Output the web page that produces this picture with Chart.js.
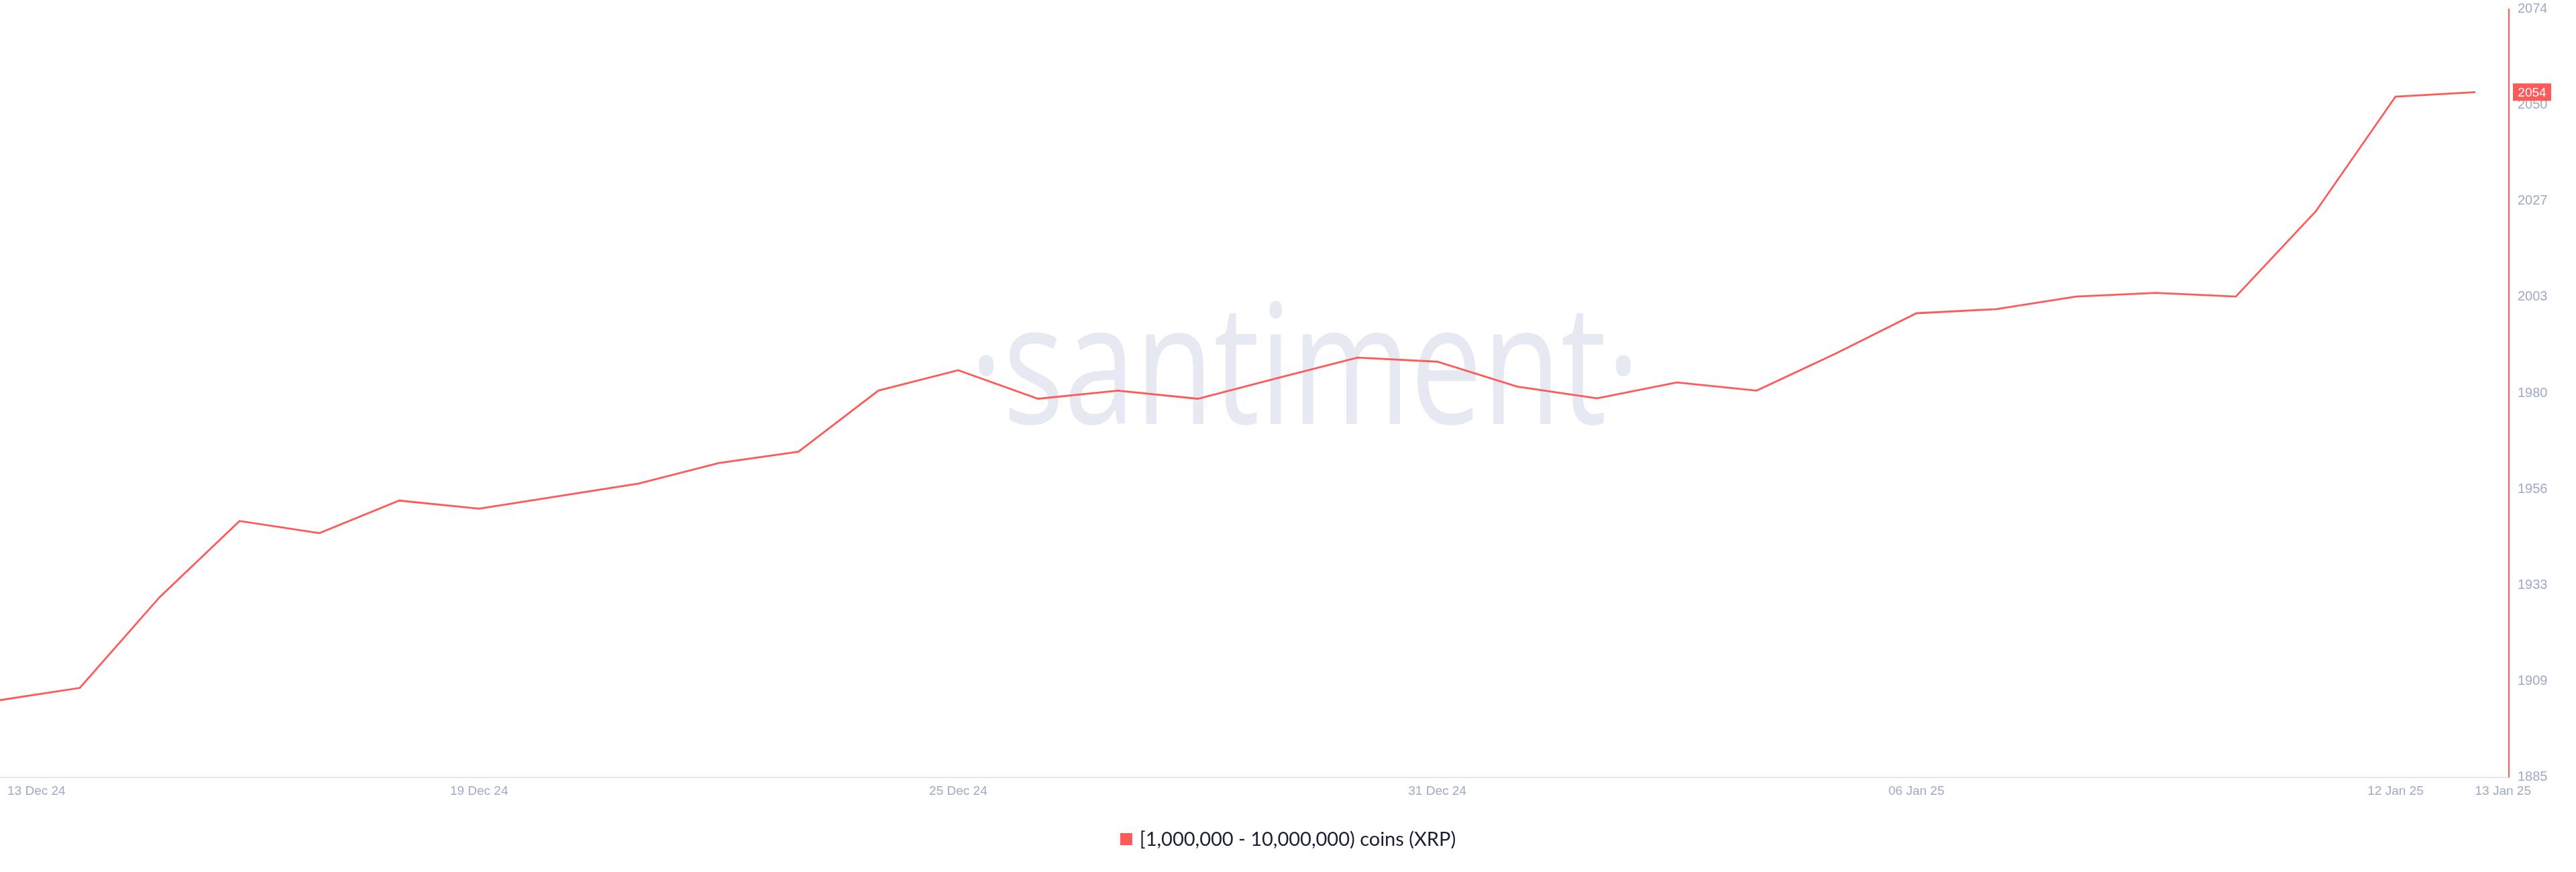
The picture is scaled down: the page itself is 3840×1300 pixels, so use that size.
<!DOCTYPE html>
<html>
<head>
<meta charset="utf-8">
<script src="https://cdn.jsdelivr.net/npm/chart.js@4.4.1/dist/chart.umd.min.js"></script>
<style>
  html, body { margin: 0; padding: 0; background: #ffffff; }
  canvas { display: block; }
</style>
</head>
<body>
<canvas id="c" width="3840" height="1300"></canvas>
<script>
// ---- data ----
const dates = [
  '13 Dec 24','14 Dec 24','15 Dec 24','16 Dec 24','17 Dec 24','18 Dec 24','19 Dec 24',
  '20 Dec 24','21 Dec 24','22 Dec 24','23 Dec 24','24 Dec 24','25 Dec 24','26 Dec 24',
  '27 Dec 24','28 Dec 24','29 Dec 24','30 Dec 24','31 Dec 24','01 Jan 25','02 Jan 25',
  '03 Jan 25','04 Jan 25','05 Jan 25','06 Jan 25','07 Jan 25','08 Jan 25','09 Jan 25',
  '10 Jan 25','11 Jan 25','12 Jan 25','13 Jan 25'
];
const holders = [
  1904.3, 1907.3, 1929.6, 1948.3, 1945.3, 1953.3, 1951.3, 1954.4, 1957.5, 1962.5,
  1965.3, 1980.3, 1985.3, 1978.3, 1980.3, 1978.3, 1983.4, 1988.4, 1987.4, 1981.3,
  1978.4, 1982.3, 1980.3, 1989.5, 1999.3, 2000.3, 2003.4, 2004.3, 2003.4, 2024.3,
  2052.5, 2053.6
];
const xTickIndices = [0, 6, 12, 18, 24, 30, 31];
const yMin = 1885.4;
const yMax = 2074.0;
const yTickCount = 9;
const seriesName = '[1,000,000 - 10,000,000) coins (XRP)';
const watermark = '·santiment·';

// ---- styles ----
const RED = 'rgb(255,90,90)';
const AXIS_TEXT = 'rgb(158,170,198)';
const TICK_FONT = '19px "Liberation Sans", Arial, sans-serif';

const watermarkPlugin = {
  id: 'watermark',
  beforeDatasetsDraw(chart) {
    const ctx = chart.ctx;
    ctx.save();
    ctx.font = '400 250px "Open Sans", sans-serif';
    ctx.fillStyle = 'rgb(230,233,242)';
    ctx.textBaseline = 'alphabetic';
    ctx.textAlign = 'left';
    const w = ctx.measureText(watermark).width;
    const targetW = 1000;
    const sx = targetW / w;
    ctx.translate(1945 - targetW / 2, 632);
    ctx.scale(sx, 1);
    ctx.fillText(watermark, 0, 0);
    ctx.restore();
  }
};

const extrasPlugin = {
  id: 'extras',
  afterDraw(chart) {
    const ctx = chart.ctx;
    const xs = chart.scales.x;
    const ys = chart.scales.y;
    ctx.save();
    // x tick labels
    ctx.font = TICK_FONT;
    ctx.fillStyle = AXIS_TEXT;
    ctx.textBaseline = 'middle';
    const yLab = 1180;
    xTickIndices.forEach((idx, k) => {
      const px = xs.getPixelForValue(idx);
      const txt = dates[idx];
      if (k === 0) {
        ctx.textAlign = 'left';
        ctx.fillText(txt, px + 11, yLab);
      } else if (k === xTickIndices.length - 1) {
        ctx.textAlign = 'right';
        ctx.fillText(txt, px + 83, yLab);
      } else {
        ctx.textAlign = 'center';
        ctx.fillText(txt, px, yLab);
      }
    });
    // last value badge
    const last = holders[holders.length - 1];
    const by = ys.getPixelForValue(last);
    ctx.fillStyle = RED;
    ctx.fillRect(3746, by - 13, 57, 26);
    ctx.fillStyle = '#ffffff';
    ctx.textAlign = 'center';
    ctx.fillText(String(Math.round(last)), 3774.5, by + 1);
    // legend
    ctx.font = '29px Lato, "Open Sans", sans-serif';
    const tw = ctx.measureText(seriesName).width;
    const total = 18 + 11 + tw;
    const lx = 1920 - total / 2;
    const ly = 1251;
    ctx.fillStyle = RED;
    ctx.fillRect(lx, ly - 9, 18, 18);
    ctx.fillStyle = 'rgb(26,31,54)';
    ctx.textAlign = 'left';
    ctx.fillText(seriesName, lx + 29, ly + 1);
    ctx.restore();
  }
};

new Chart(document.getElementById('c'), {
  type: 'line',
  data: {
    datasets: [{
      label: seriesName,
      data: holders.map((v, i) => ({ x: i, y: v })),
      borderColor: RED,
      backgroundColor: RED,
      borderWidth: 2.8,
      pointRadius: 0,
      tension: 0,
      fill: false
    }]
  },
  options: {
    responsive: false,
    animation: false,
    devicePixelRatio: 1,
    layout: { padding: { left: 0, right: 0, top: 13.5, bottom: 141.5 } },
    plugins: {
      legend: { display: false },
      tooltip: { enabled: false }
    },
    scales: {
      x: {
        type: 'linear',
        min: 0,
        max: 31.42,
        ticks: { display: false },
        grid: { display: false, drawTicks: false },
        border: { display: true, color: 'rgb(226,231,240)', width: 2 },
        afterFit(scale) { scale.height = 0; scale.paddingLeft = 0; scale.paddingRight = 0; }
      },
      y: {
        position: 'right',
        min: yMin,
        max: yMax,
        afterBuildTicks(scale) {
          const t = [];
          for (let i = 0; i < yTickCount; i++) {
            t.push({ value: yMin + (yMax - yMin) * i / (yTickCount - 1) });
          }
          scale.ticks = t;
        },
        ticks: {
          color: AXIS_TEXT,
          font: { family: '"Liberation Sans", Arial, sans-serif', size: 20 },
          padding: 13,
          callback: (v) => String(Math.round(v))
        },
        grid: { display: false, drawTicks: false },
        border: { display: true, color: RED, width: 2 },
        afterFit(scale) { scale.width = 100; scale.paddingTop = 0; scale.paddingBottom = 0; }
      }
    }
  },
  plugins: [watermarkPlugin, extrasPlugin]
});
</script>
</body>
</html>
